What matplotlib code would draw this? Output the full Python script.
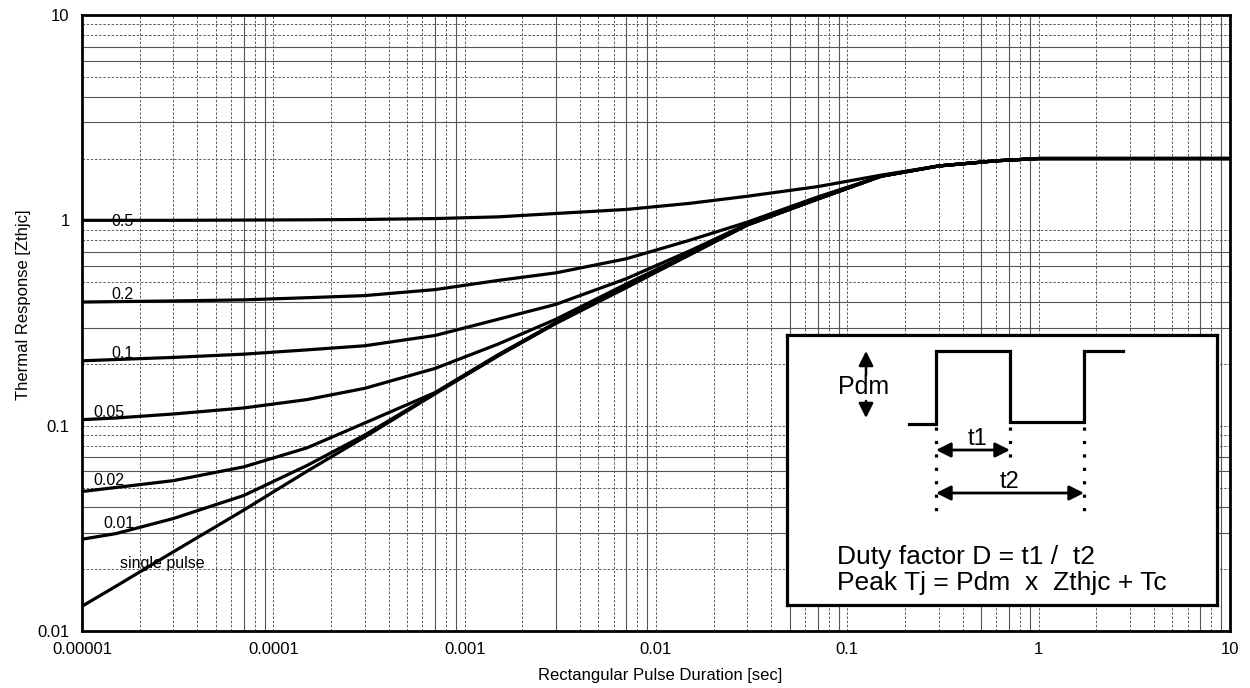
import numpy as np
import matplotlib
matplotlib.use("Agg")
import matplotlib.pyplot as plt
from matplotlib.ticker import FixedLocator, FixedFormatter, NullFormatter

plt.rcParams['font.family'] = ['Liberation Sans', 'DejaVu Sans']

# ---------------- data ----------------
pulse_duration = [1e-5, 1.5e-5, 3e-5, 7e-5, 1.5e-4, 3e-4, 7e-4, 1.5e-3, 3e-3, 7e-3,
                  1.5e-2, 3e-2, 7e-2, 0.15, 0.3, 0.6, 1, 10]

zth_d050 = [1.00, 1.00, 1.00, 1.003, 1.006, 1.01, 1.02, 1.04, 1.08, 1.13,
            1.21, 1.31, 1.46, 1.66, 1.84, 1.95, 2.0, 2.0]
zth_d020 = [0.40, 0.402, 0.405, 0.41, 0.42, 0.43, 0.46, 0.51, 0.555, 0.65,
            0.80, 0.98, 1.30, 1.64, 1.84, 1.95, 2.0, 2.0]
zth_d010 = [0.207, 0.210, 0.215, 0.223, 0.234, 0.245, 0.275, 0.33, 0.39, 0.52,
            0.71, 0.96, 1.28, 1.64, 1.84, 1.95, 2.0, 2.0]
zth_d005 = [0.107, 0.109, 0.114, 0.122, 0.134, 0.152, 0.19, 0.25, 0.33, 0.49,
            0.69, 0.95, 1.27, 1.64, 1.84, 1.95, 2.0, 2.0]
zth_d002 = [0.0478, 0.050, 0.054, 0.063, 0.078, 0.103, 0.145, 0.222, 0.318, 0.48,
            0.685, 0.95, 1.27, 1.64, 1.84, 1.95, 2.0, 2.0]
zth_d001 = [0.028, 0.0298, 0.0353, 0.0457, 0.064, 0.090, 0.144, 0.22, 0.316, 0.475,
            0.68, 0.95, 1.27, 1.64, 1.84, 1.95, 2.0, 2.0]
zth_single = [0.0132, 0.0165, 0.0243, 0.0388, 0.060, 0.088, 0.143, 0.219, 0.315, 0.47,
              0.68, 0.95, 1.27, 1.64, 1.84, 1.95, 2.0, 2.0]

curve_labels = ['0.5', '0.2', '0.1', '0.05', '0.02', '0.01', 'single pulse']

x_tick_values = [1e-5, 1e-4, 1e-3, 1e-2, 1e-1, 1, 10]
x_tick_labels = ['0.00001', '0.0001', '0.001', '0.01', '0.1', '1', '10']
y_tick_values = [0.01, 0.1, 1, 10]
y_tick_labels = ['0.01', '0.1', '1', '10']

x_title = 'Rectangular Pulse Duration [sec]'
y_title = 'Thermal Response [Zthjc]'
duty_text = 'Duty factor D = t1 /  t2'
peak_text = 'Peak Tj = Pdm  x  Zthjc + Tc'

# ---------------- figure ----------------
fig = plt.figure(figsize=(12.5, 6.88), dpi=100)
ax = fig.add_axes([0.0656, 0.0828, 0.9184, 0.8954])
ax.set_xscale('log')
ax.set_yscale('log')
ax.set_xlim(1e-5, 10)
ax.set_ylim(0.01, 10)

ax.xaxis.set_major_locator(FixedLocator(x_tick_values))
ax.xaxis.set_major_formatter(FixedFormatter(x_tick_labels))
ax.yaxis.set_major_locator(FixedLocator(y_tick_values))
ax.yaxis.set_major_formatter(FixedFormatter(y_tick_labels))
ax.xaxis.set_minor_formatter(NullFormatter())
ax.yaxis.set_minor_formatter(NullFormatter())

# grid: mixture of dashed and solid thin lines, as on the datasheet
dash = (0, (3, 2))
for k in range(-5, 1):
    for m in range(1, 10):
        v = m * 10.0 ** k
        if v <= 1e-5 or v >= 10:
            continue
        if m in (7, 9) or (m == 3 and k == -3) or (m == 5 and k in (-2, -1)):
            ax.axvline(v, color='#555555', lw=0.8, ls='-', zorder=1)
        else:
            ax.axvline(v, color='#444444', lw=0.6, ls=dash, zorder=1)
for k in range(-2, 1):
    for m in range(1, 10):
        v = m * 10.0 ** k
        if v <= 0.01 or v >= 10 or v == 1:
            continue
        if m in (3, 4, 6, 7):
            ax.axhline(v, color='#555555', lw=0.8, ls='-', zorder=1)
        else:
            ax.axhline(v, color='#444444', lw=0.6, ls=dash, zorder=1)

series = [zth_d050, zth_d020, zth_d010, zth_d005, zth_d002, zth_d001, zth_single]
for s in series:
    ax.plot(pulse_duration, s, color='black', lw=2.3, zorder=3, solid_joinstyle='round')

label_pos = [(1.43e-5, 0.99), (1.43e-5, 0.437), (1.42e-5, 0.224), (1.14e-5, 0.116),
             (1.14e-5, 0.054), (1.29e-5, 0.0335), (1.58e-5, 0.0214)]
for lab, (lx, ly) in zip(curve_labels, label_pos):
    ax.text(lx, ly, lab, fontsize=11.5, ha='left', va='center', zorder=2)

ax.tick_params(which='both', length=0, labelsize=12)
ax.tick_params(axis='y', pad=9)
ax.tick_params(axis='x', pad=8)
for sp in ax.spines.values():
    sp.set_linewidth(2.0)
    sp.set_color('black')

ax.set_xlabel(x_title, fontsize=12)
ax.set_ylabel(y_title, fontsize=12)
ax.xaxis.set_label_coords(0.5035, -0.060)
ax.yaxis.set_label_coords(-0.044, 0.53)

# ---------------- inset diagram ----------------
ins = fig.add_axes([0.6296, 0.1206, 0.344, 0.3925])
ins.set_xlim(0, 430)
ins.set_ylim(270, 0)
ins.set_xticks([])
ins.set_yticks([])
ins.set_facecolor('white')
for sp in ins.spines.values():
    sp.set_linewidth(2.3)
    sp.set_color('black')

wave_x = [122, 149, 149, 223, 223, 297, 297, 336]
wave_y = [89, 89, 16, 16, 87, 87, 16, 16]
ins.plot(wave_x, wave_y, color='black', lw=2.3, solid_joinstyle='miter')
ins.plot([149, 149], [92, 177], color='black', lw=2.3, ls=(0, (1, 3.2)))
ins.plot([223, 223], [92, 125], color='black', lw=2.3, ls=(0, (1, 3.2)))
ins.plot([297, 297], [92, 177], color='black', lw=2.3, ls=(0, (1, 3.2)))

arrow_kw = dict(arrowstyle='<|-|>', color='black', lw=2.0, mutation_scale=22,
                shrinkA=0, shrinkB=0)
ins.annotate('', xy=(149, 115), xytext=(223, 115), arrowprops=arrow_kw)
ins.annotate('', xy=(149, 158), xytext=(297, 158), arrowprops=arrow_kw)
ins.text(191, 104, 't1', fontsize=17, ha='center', va='center')
ins.text(223, 147, 't2', fontsize=17, ha='center', va='center')

ins.text(51, 52, 'Pdm', fontsize=18, ha='left', va='center')
head_kw = dict(arrowstyle='-|>', color='black', lw=1.8, mutation_scale=22,
               shrinkA=0, shrinkB=0)
ins.annotate('', xy=(79, 16), xytext=(79, 40), arrowprops=head_kw)
ins.annotate('', xy=(79, 83), xytext=(79, 66), arrowprops=head_kw)

ins.text(50, 222, duty_text, fontsize=19, ha='left', va='center')
ins.text(50, 248, peak_text, fontsize=19, ha='left', va='center')

fig.savefig('out.png', dpi=100)
